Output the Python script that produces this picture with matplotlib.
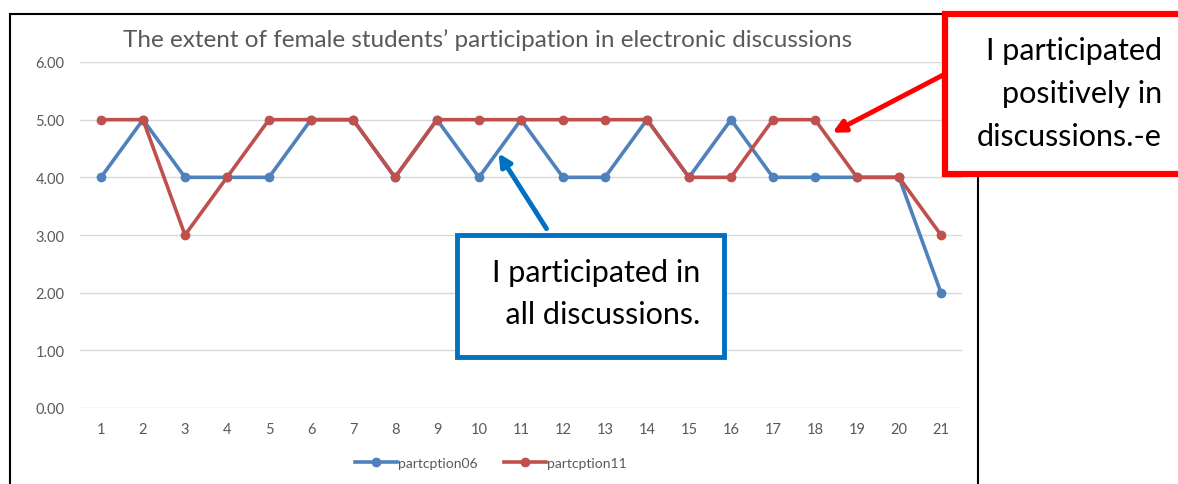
import matplotlib
matplotlib.use("Agg")
import matplotlib.pyplot as plt
from matplotlib.patches import Rectangle, FancyArrowPatch
import numpy as np

# data
items = list(range(1, 22))
partcption06 = [4, 5, 4, 4, 4, 5, 5, 4, 5, 4, 5, 4, 4, 5, 4, 5, 4, 4, 4, 4, 2]
partcption11 = [5, 5, 3, 4, 5, 5, 5, 4, 5, 5, 5, 5, 5, 5, 4, 4, 5, 5, 4, 4, 3]
y_ticks = [0, 1, 2, 3, 4, 5, 6]

title = "The extent of female students\u2019 participation in electronic discussions"
blue_note = "I participated in\n  all discussions."
red_note = "I participated\npositively in\ndiscussions.-e"

plt.rcParams['font.family'] = ['Lato', 'DejaVu Sans']

W, H = 1178, 485
fig = plt.figure(figsize=(W / 100, H / 100), dpi=100)


def fx(x):
    return x / W


def fy(y):
    return (H - y) / H


blue = "#4F81BD"
red = "#C0504D"
grey = "#595959"

# plot area (pixel positions from the reference)
ax = fig.add_axes([fx(80), fy(409), fx(962) - fx(80), fy(63) - fy(409)])
ax.plot(items, partcption06, color=blue, lw=2.6, marker='o', ms=6, label="partcption06")
ax.plot(items, partcption11, color=red, lw=2.6, marker='o', ms=6, label="partcption11")

ax.set_xlim(0.5, 21.5)
ax.set_ylim(0, 6)
ax.set_xticks(items)
ax.set_yticks(y_ticks)
ax.set_yticklabels([f"{v:.2f}" for v in y_ticks])
ax.tick_params(length=0, labelsize=10.5, colors=grey, pad=11)
ax.tick_params(axis='x', pad=10)
ax.yaxis.grid(True, color="#D9D9D9", lw=1)
ax.set_axisbelow(True)
for s in ax.spines.values():
    s.set_visible(False)

fig.text(fx(488), fy(40), title, ha='center', va='center', fontsize=17.5, color=grey)

leg = fig.legend(loc='center', bbox_to_anchor=(fx(491), fy(464)), ncol=2, frameon=False,
                 fontsize=10, handlelength=3.0, columnspacing=1.9, handletextpad=0.1)
for t in leg.get_texts():
    t.set_color(grey)

# outer chart frame
fig.patches.append(Rectangle((fx(10), fy(490)), fx(978) - fx(10), fy(15) - fy(490),
                             transform=fig.transFigure, fill=False, ec='black', lw=1.5))

# blue callout
fig.patches.append(Rectangle((fx(457), fy(358)), fx(724) - fx(457), fy(236) - fy(358),
                             transform=fig.transFigure, fc='white', ec='#0070C0', lw=3.5, zorder=5))
fig.text(fx(700), fy(294), blue_note, ha='right', va='center', fontsize=22,
         linespacing=1.65, color='black', zorder=6)
fig.patches.append(FancyArrowPatch((fx(548), fy(232)), (fx(497), fy(152)),
                                   transform=fig.transFigure, arrowstyle='-|>', mutation_scale=18,
                                   color='#0070C0', lw=3.5, zorder=6))

# red callout
fig.patches.append(Rectangle((fx(945), fy(175)), fx(1190) - fx(945), fy(15) - fy(175),
                             transform=fig.transFigure, fc='white', ec='#FF0000', lw=4.5, zorder=5))
fig.text(fx(1162), fy(94), red_note, ha='right', va='center', fontsize=22,
         linespacing=1.65, color='black', zorder=6)
fig.patches.append(FancyArrowPatch((fx(945), fy(75)), (fx(830), fy(135)),
                                   transform=fig.transFigure, arrowstyle='-|>', mutation_scale=18,
                                   color='#FF0000', lw=3.5, zorder=6))

fig.savefig("out.png", dpi=100)
